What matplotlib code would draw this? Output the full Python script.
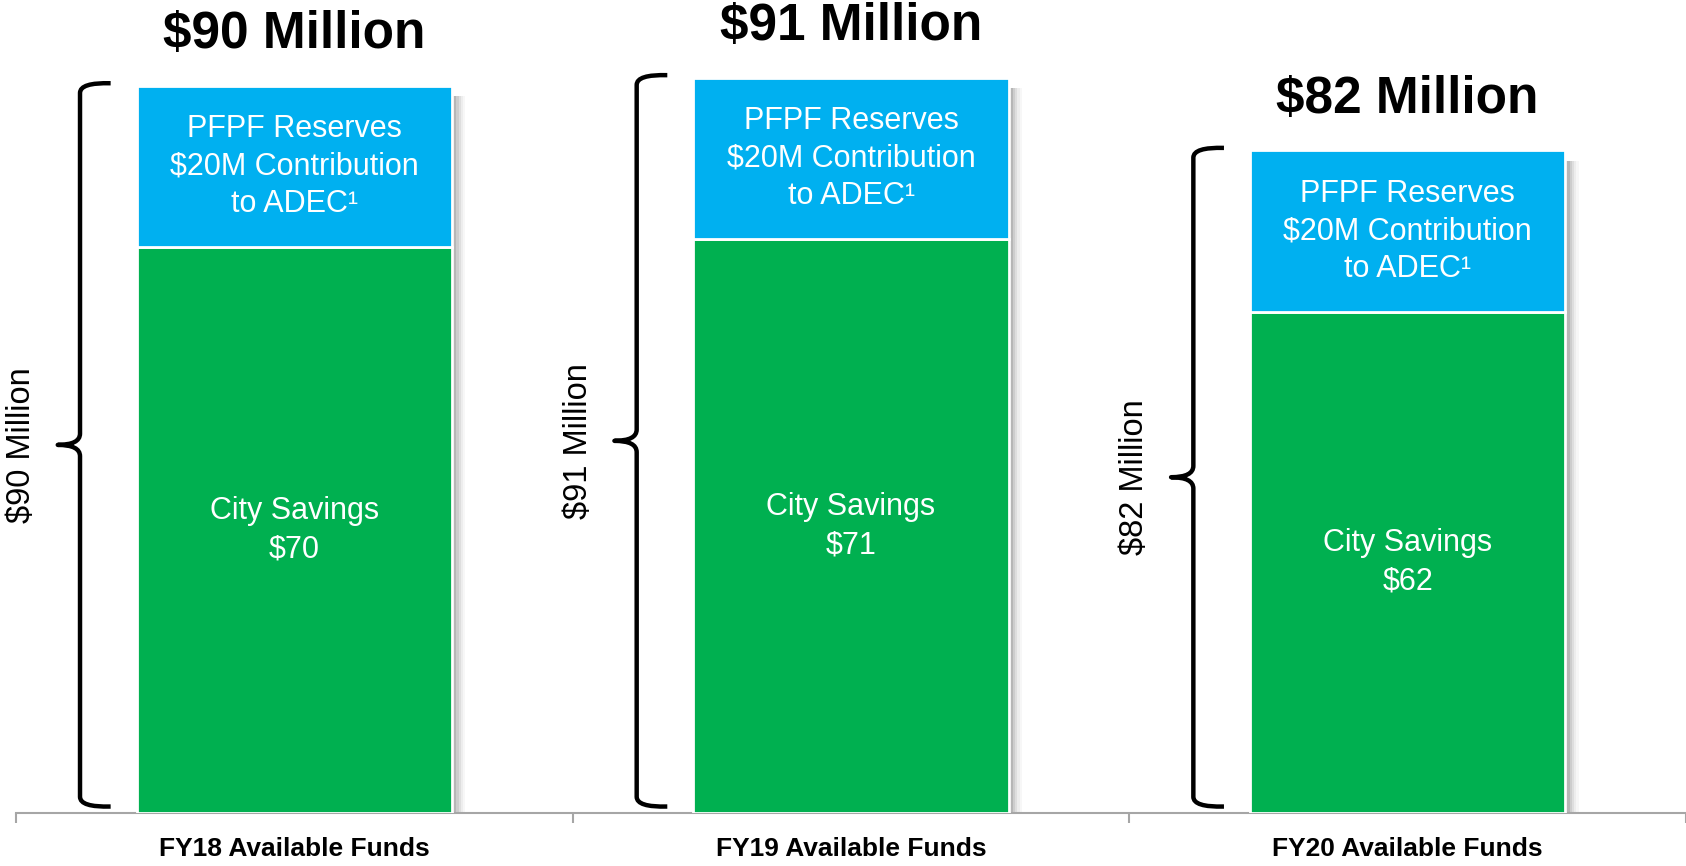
import matplotlib
matplotlib.use("Agg")
import matplotlib.pyplot as plt
from matplotlib.path import Path
from matplotlib.patches import PathPatch, Rectangle

# ---- data ----
categories = ["FY18 Available Funds", "FY19 Available Funds", "FY20 Available Funds"]
city_savings = [70, 71, 62]
pfpf_reserves = [20, 20, 20]
totals = [90, 91, 82]
total_labels = ["$90 Million", "$91 Million", "$82 Million"]
city_labels = ["City Savings\n$70", "City Savings\n$71", "City Savings\n$62"]
pfpf_label = "PFPF Reserves\n$20M Contribution\nto ADEC\u00b9"

BLUE = "#00B0F0"
GREEN = "#00B050"
FONT = ["Liberation Sans", "DejaVu Sans"]

W, H = 1686, 866
fig = plt.figure(figsize=(W / 100, H / 100), dpi=100)
ax = fig.add_axes([16 / W, 53 / H, 1 - 16 / W, 813 / H])
ax.set_xlim(-0.5, 2.5)
ax.set_ylim(0, 100.6)

x = list(range(len(categories)))
bw = 0.566

# soft shadows to the right of the bars
for i in x:
    for k, a in enumerate([0.14, 0.11, 0.08, 0.06, 0.04, 0.03]):
        dx = 0.004 * (k + 1)
        ax.add_patch(Rectangle((i - bw / 2 + dx, -1.0), bw, totals[i] - 0.3,
                               facecolor="black", alpha=a, lw=0, zorder=1))

ax.bar(x, city_savings, width=bw, color=GREEN, edgecolor="white", linewidth=2, zorder=3)
ax.bar(x, pfpf_reserves, width=bw, bottom=city_savings, color=BLUE,
       edgecolor="white", linewidth=2, zorder=3)

for i in x:
    cs, pr, tot = city_savings[i], pfpf_reserves[i], totals[i]
    ax.text(i, cs + pr / 2, pfpf_label, ha="center", va="center", color="white",
            fontsize=22, family=FONT, linespacing=1.33, zorder=4)
    ax.text(i, cs / 2, city_labels[i], ha="center", va="center", color="white",
            fontsize=22, family=FONT, linespacing=1.35, zorder=4)
    ax.text(i, tot + 6.3, total_labels[i], ha="center", va="center", color="black",
            fontsize=37, fontweight="bold", family=FONT, clip_on=False)

    # curly brace to the left of each bar
    xl = i - 0.385
    hook = i - 0.33
    tip = i - 0.425
    top = tot + 0.3
    bot = 0.8
    mid = (top + bot) / 2
    r = 1.2
    rm = 1.4
    verts = [
        (hook, top), (xl, top + 0.1), (xl, top - r),
        (xl, mid + rm), (xl, mid), (tip, mid),
        (xl, mid), (xl, mid - rm),
        (xl, bot + r), (xl, bot - 0.1), (hook, bot),
    ]
    codes = [Path.MOVETO, Path.CURVE3, Path.CURVE3,
             Path.LINETO, Path.CURVE3, Path.CURVE3,
             Path.CURVE3, Path.CURVE3,
             Path.LINETO, Path.CURVE3, Path.CURVE3]
    ax.add_patch(PathPatch(Path(verts, codes), fill=False, lw=3.2, color="black",
                           capstyle="butt", joinstyle="round", zorder=2, clip_on=False))
    ax.text(i - 0.49, mid, total_labels[i], rotation=90, ha="center", va="center",
            fontsize=23.5, family=FONT, color="black")

for s in ["top", "left", "right"]:
    ax.spines[s].set_visible(False)
ax.spines["bottom"].set_color("#A6A6A6")
ax.spines["bottom"].set_linewidth(1.5)
ax.set_yticks([])
ax.set_xticks([-0.5, 0.5, 1.5, 2.5])
ax.set_xticklabels([])
ax.tick_params(axis="x", which="major", length=7, width=1.5, color="#A6A6A6", direction="out")
ax.set_xticks(x, minor=True)
ax.set_xticklabels(categories, minor=True, fontsize=19, fontweight="bold", family=FONT)
ax.tick_params(axis="x", which="minor", length=0, pad=17)

fig.savefig("out.png", dpi=100)
